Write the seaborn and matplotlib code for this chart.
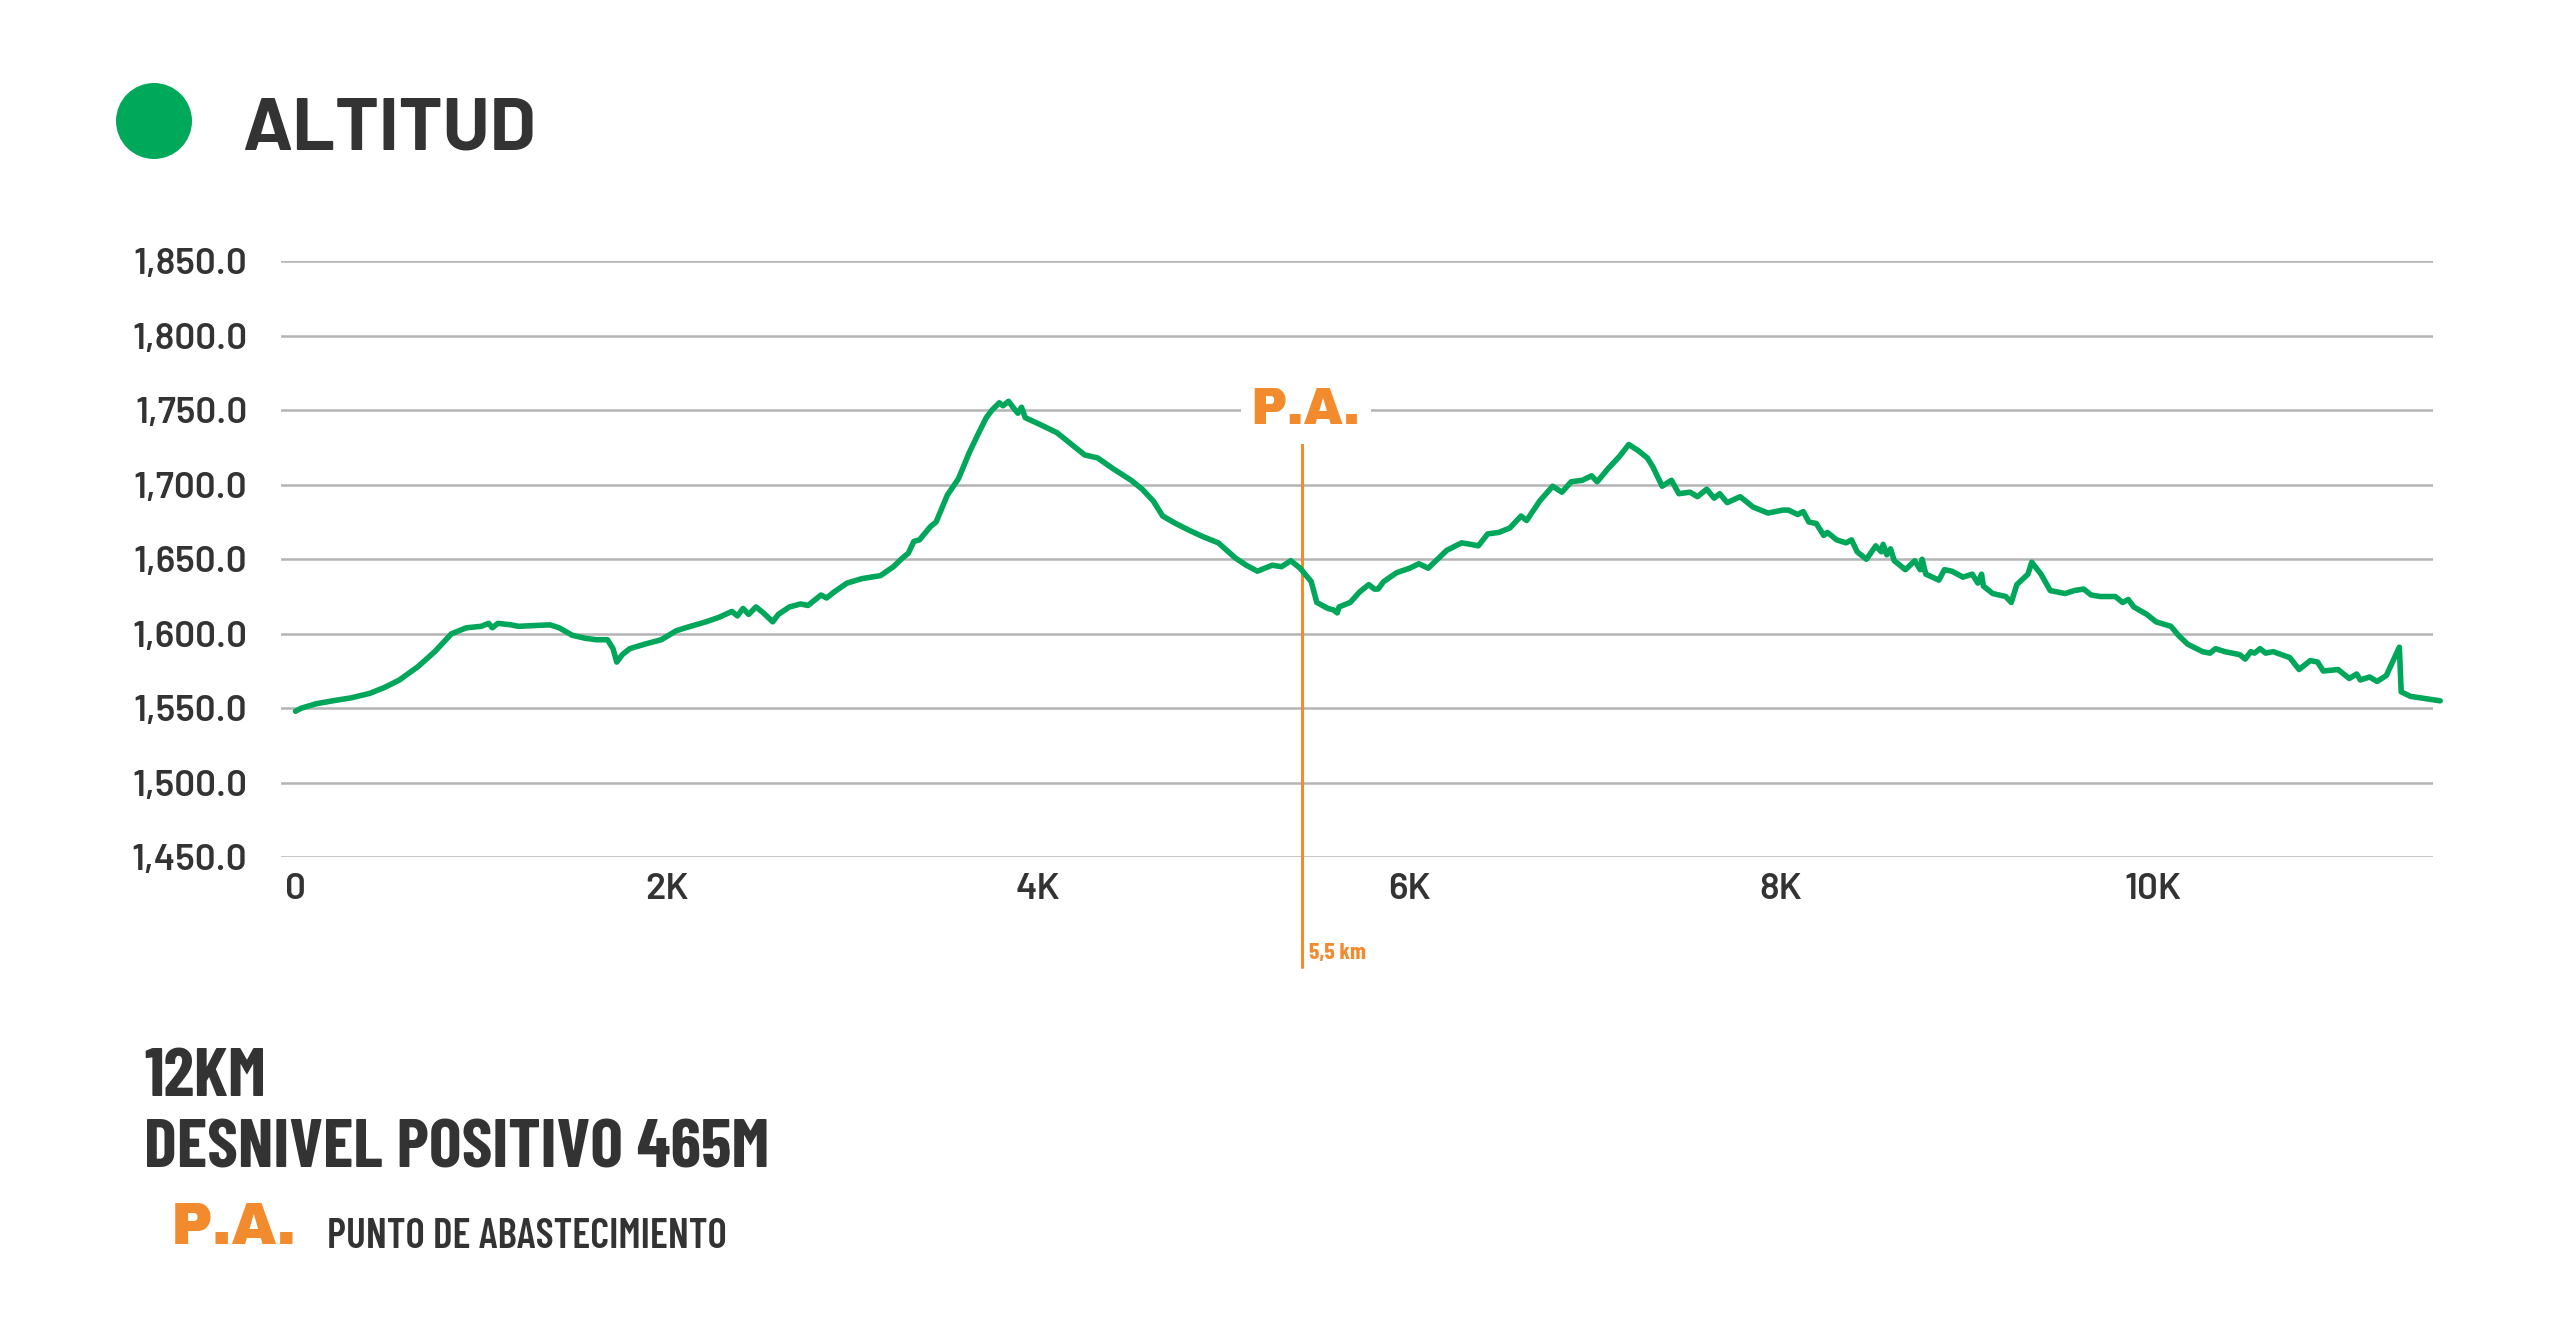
import pandas as pd
import matplotlib
matplotlib.use("Agg")
import matplotlib.pyplot as plt
from matplotlib import font_manager as fm
from matplotlib.patches import Circle
import seaborn as sns

# elevation profile
distance_km = [
    0.00, 0.03, 0.11, 0.20, 0.30, 0.40, 0.48, 0.56, 0.66, 0.75, 0.84, 0.92, 1.00, 1.04, 1.06, 1.09,
    1.16, 1.20, 1.37, 1.42, 1.49, 1.56, 1.62, 1.68, 1.71, 1.73, 1.76, 1.80, 1.88, 1.97, 2.05, 2.10,
    2.21, 2.28, 2.35, 2.38, 2.41, 2.44, 2.48, 2.52, 2.57, 2.60, 2.66, 2.72, 2.76, 2.80, 2.83, 2.86,
    2.90, 2.97, 3.05, 3.15, 3.22, 3.27, 3.30, 3.33, 3.36, 3.42, 3.45, 3.51, 3.57, 3.63, 3.68, 3.72,
    3.75, 3.79, 3.81, 3.84, 3.87, 3.89, 3.91, 3.93, 4.00, 4.10, 4.17, 4.25, 4.32, 4.40, 4.50, 4.56,
    4.62, 4.67, 4.74, 4.82, 4.89, 4.97, 5.06, 5.12, 5.18, 5.26, 5.31, 5.36, 5.41, 5.47, 5.50, 5.56,
    5.59, 5.61, 5.62, 5.68, 5.73, 5.78, 5.81, 5.83, 5.86, 5.93, 6.00, 6.05, 6.10, 6.15, 6.20, 6.28,
    6.33, 6.37, 6.42, 6.48, 6.54, 6.60, 6.63, 6.70, 6.77, 6.82, 6.87, 6.93, 6.98, 7.01, 7.07, 7.13,
    7.18, 7.23, 7.28, 7.31, 7.36, 7.41, 7.45, 7.51, 7.55, 7.60, 7.64, 7.67, 7.71, 7.78, 7.85, 7.93,
    8.01, 8.04, 8.09, 8.12, 8.15, 8.19, 8.23, 8.25, 8.30, 8.35, 8.38, 8.41, 8.46, 8.51, 8.54, 8.55,
    8.57, 8.59, 8.61, 8.67, 8.72, 8.75, 8.76, 8.78, 8.85, 8.88, 8.92, 8.98, 9.03, 9.06, 9.08, 9.09,
    9.14, 9.21, 9.24, 9.27, 9.33, 9.35, 9.40, 9.45, 9.53, 9.58, 9.63, 9.67, 9.72, 9.80, 9.84, 9.87,
    9.90, 9.97, 10.02, 10.10, 10.14, 10.19, 10.27, 10.31, 10.34, 10.39, 10.47, 10.50, 10.53, 10.55,
    10.58, 10.61, 10.65, 10.74, 10.79, 10.85, 10.89, 10.92, 11.00, 11.06, 11.10, 11.12, 11.17, 11.21,
    11.26, 11.33, 11.34, 11.39, 11.55,
]
altitude_m = [
    1548, 1550, 1553, 1555, 1557, 1560, 1564, 1569, 1578, 1588, 1600, 1604, 1605, 1607, 1604, 1607,
    1606, 1605, 1606, 1604, 1599, 1597, 1596, 1596, 1590, 1581, 1586, 1590, 1593, 1596, 1602, 1604,
    1608, 1611, 1615, 1612, 1617, 1613, 1618, 1614, 1608, 1613, 1618, 1620, 1619, 1623, 1626, 1624,
    1628, 1634, 1637, 1639, 1645, 1651, 1654, 1662, 1663, 1672, 1675, 1693, 1704, 1722, 1735, 1745,
    1750, 1755, 1753, 1756, 1751, 1748, 1752, 1745, 1741, 1735, 1728, 1720, 1718, 1711, 1703, 1697,
    1689, 1679, 1674, 1669, 1665, 1661, 1651, 1646, 1642, 1646, 1645, 1649, 1644, 1635, 1621, 1617,
    1616, 1614, 1618, 1621, 1628, 1633, 1630, 1630, 1635, 1641, 1644, 1647, 1644, 1650, 1656, 1661,
    1660, 1659, 1667, 1668, 1671, 1679, 1676, 1689, 1699, 1695, 1702, 1703, 1706, 1702, 1711, 1719,
    1727, 1723, 1718, 1712, 1699, 1703, 1694, 1695, 1692, 1697, 1691, 1694, 1688, 1692, 1685, 1681,
    1683, 1683, 1680, 1682, 1675, 1674, 1666, 1668, 1663, 1661, 1663, 1655, 1650, 1659, 1655, 1660,
    1653, 1657, 1649, 1643, 1649, 1643, 1650, 1640, 1636, 1643, 1642, 1638, 1640, 1634, 1640, 1632,
    1627, 1625, 1621, 1633, 1640, 1648, 1640, 1629, 1627, 1629, 1630, 1626, 1625, 1625, 1621, 1623,
    1618, 1613, 1608, 1605, 1599, 1593, 1588, 1587, 1590, 1588, 1586, 1583, 1588, 1587,
    1590, 1587, 1588, 1584, 1576, 1582, 1581, 1575, 1576, 1570, 1573, 1569, 1571, 1568,
    1572, 1591, 1561, 1558, 1555,
]
y_ticks = [1450, 1500, 1550, 1600, 1650, 1700, 1750, 1800, 1850]
x_ticks = [0, 2, 4, 6, 8, 10]
x_tick_labels = ["0", "2K", "4K", "6K", "8K", "10K"]
pa_km = 5.42
pa_text = "5,5 km"

GREEN = "#00a65a"
ORANGE = "#f28a2e"
DARK = "#333333"
GRID = "#b4b4b4"

sns.set_theme(style="white")
plt.rcParams["font.family"] = ["Roboto", "DejaVu Sans"]

# font choices, each with fallbacks
cond_fp = fm.FontProperties(family=["Barlow Condensed", "Asap Condensed", "DejaVu Sans"],
                            weight="bold")
cond_mid_fp = fm.FontProperties(family=["Barlow Condensed", "Asap Condensed", "DejaVu Sans"],
                                weight="semibold")
head_fp = fm.FontProperties(family=["Barlow", "Roboto", "DejaVu Sans"], weight="bold")
tick_fp = fm.FontProperties(family=["Barlow", "Roboto", "DejaVu Sans"], weight="semibold")
heavy_fp = fm.FontProperties(family=["Archivo Black", "Montserrat", "DejaVu Sans"],
                             weight="black")

df = pd.DataFrame({"km": distance_km, "alt": altitude_m})

fig = plt.figure(figsize=(25.6, 13.24), dpi=100)
ax = fig.add_axes([0.1097, 0.3525, 0.8406, 0.4502])

sns.lineplot(data=df, x="km", y="alt", ax=ax, color=GREEN, linewidth=4.0,
             sort=False, estimator=None, clip_on=False, zorder=3)

ax.set_xlim(-0.079, 11.51)
ax.set_ylim(1450, 1850)
ax.set_yticks(y_ticks)
ax.set_yticklabels([f"{v:,.1f}" for v in y_ticks])
ax.set_xticks(x_ticks)
ax.set_xticklabels(x_tick_labels)
ax.set_xlabel("")
ax.set_ylabel("")
ax.yaxis.grid(True, color=GRID, linewidth=1.8)
ax.xaxis.grid(False)
sns.despine(ax=ax, left=True, bottom=True)
ax.tick_params(axis="y", length=0, pad=24, labelcolor=DARK)
ax.tick_params(axis="x", length=0, pad=11, labelcolor=DARK)
tick_labels = ax.get_xticklabels() + ax.get_yticklabels()
for lab in tick_labels:
    lab.set_fontproperties(tick_fp)
    lab.set_fontsize(20)

# aid station marker
trans = ax.get_xaxis_transform()
ax.plot([pa_km, pa_km], [0.712, -0.184], transform=trans, color=ORANGE,
        linewidth=2.2, clip_on=False, zorder=2)
pa_mark = ax.text(pa_km + 0.02, 1750, "P.A.", ha="center", va="center", color=ORANGE,
                  fontproperties=heavy_fp, fontsize=30,
                  bbox=dict(facecolor="white", edgecolor="none", pad=6), zorder=4)
km_note = ax.text(pa_km + 0.04, -0.161, pa_text, transform=trans, ha="left",
                  va="center", color=ORANGE, fontproperties=cond_fp, fontsize=19)

# header
fig.patches.append(Circle((1.54, 12.03), 0.38, transform=fig.dpi_scale_trans,
                          facecolor="#00a859", edgecolor="none"))
title = fig.text(242 / 2560, (1324 - 150) / 1324, "ALTITUD", ha="left",
                 va="baseline", fontproperties=head_fp, fontsize=54, color=DARK)

# footer
line1 = fig.text(144 / 2560, (1324 - 1096) / 1324, "12KM", ha="left",
                 va="baseline", fontproperties=cond_fp, fontsize=48, color=DARK)
line2 = fig.text(144 / 2560, (1324 - 1168) / 1324, "DESNIVEL POSITIVO 465M",
                 ha="left", va="baseline", fontproperties=cond_fp, fontsize=48,
                 color=DARK)
pa_legend = fig.text(171 / 2560, (1324 - 1244) / 1324, "P.A.", ha="left",
                     va="baseline", fontproperties=heavy_fp, fontsize=32, color=ORANGE)
legend_txt = fig.text(327 / 2560, (1324 - 1248) / 1324, "PUNTO DE ABASTECIMIENTO",
                      ha="left", va="baseline", fontproperties=cond_mid_fp,
                      fontsize=31, color=DARK)

# size texts to the widths seen in the reference (pixels)
renderer = fig.canvas.get_renderer()
for artist, width_px in [(line2, 625), (legend_txt, 400), (km_note, 57),
                         (title, 294), (pa_mark, 110), (pa_legend, 126)]:
    w = artist.get_window_extent(renderer).width
    artist.set_fontsize(artist.get_fontsize() * width_px / w)
line1.set_fontsize(line2.get_fontsize())
top_label = ax.get_yticklabels()[-1]
tick_size = 20 * 114 / top_label.get_window_extent(renderer).width
for lab in tick_labels:
    lab.set_fontsize(tick_size)

fig.savefig("out.png", dpi=100, facecolor="white")
plt.close(fig)
